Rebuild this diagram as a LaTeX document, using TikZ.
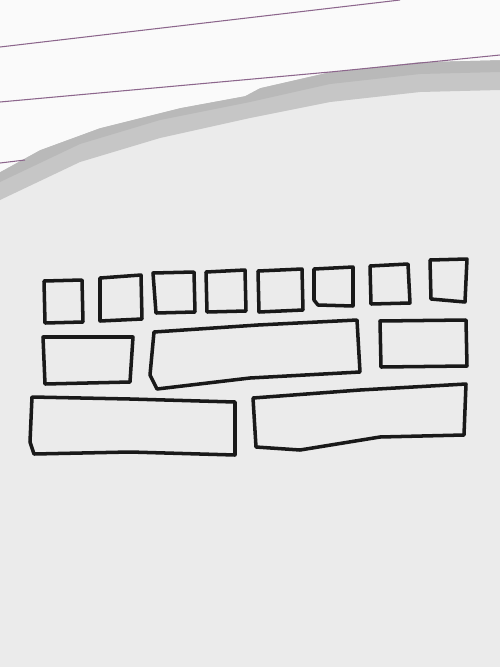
\documentclass[tikz,border=0pt]{standalone}
\usepackage{tikz}

\tikzset{
  pen/.style={black!90, line width=2pt, line join=round, line cap=round},
  rule/.style={violet!50!black!60, line width=0.6pt}
}

\begin{document}
\begin{tikzpicture}[x=0.02cm, y=-0.02cm]

        % paper
        \fill[gray!16] (0,0) rectangle (500,667);
        \useasboundingbox (0,0) rectangle (500,667);

        % torn top sheet
        \fill[gray!45] (0,172) -- (40,150) -- (100,128) -- (180,108) -- (245,96) -- (260,88)
              -- (330,72) -- (420,62) -- (500,60) -- (500,90) -- (420,92) -- (330,102)
              -- (250,118) -- (160,138) -- (80,162) -- (0,200) -- cycle;
        \fill[gray!55] (0,172) -- (40,150) -- (100,128) -- (180,108) -- (245,96) -- (260,88)
              -- (330,72) -- (420,62) -- (500,60) -- (500,72) -- (420,74) -- (330,84)
              -- (250,102) -- (160,120) -- (80,144) -- (0,182) -- cycle;
        \fill[white!96!gray] (0,0) rectangle (500,60) (0,60) -- (500,60) -- (420,62) -- (330,72)
              -- (260,88) -- (245,96) -- (180,108) -- (100,128) -- (40,150) -- (0,172) -- cycle;
        \draw[rule] (0,47) -- (400,0);
        \draw[rule] (0,102) -- (330,72);
        \draw[rule] (330,72) -- (500,55);
        \draw[rule] (0,163) -- (25,160);

        % top row
        \draw[pen] (44,281) -- (82,280) -- (83,322) -- (45,323) -- cycle;
        \draw[pen] (100,278) -- (141,275) -- (142,319) -- (100,321) -- cycle;
        \draw[pen] (153,273) -- (194,272) -- (195,312) -- (156,313) -- cycle;
        \draw[pen] (206,272) -- (245,270) -- (246,311) -- (207,312) -- cycle;
        \draw[pen] (258,271) -- (302,269) -- (303,310) -- (259,312) -- cycle;
        \draw[pen] (314,269) -- (353,267) -- (353,306) -- (318,305) -- (314,300) -- cycle;
        \draw[pen] (370,266) -- (408,264) -- (410,303) -- (371,304) -- cycle;
        \draw[pen] (430,260) -- (467,259) -- (465,302) -- (431,299) -- cycle;

        % middle row
        \draw[pen] (43,337) -- (133,337) -- (130,382) -- (45,384) -- cycle;
        \draw[pen] (154,332) -- (258,325) -- (357,320) -- (360,372) -- (250,378) -- (157,389)
              -- (150,375) -- cycle;
        \draw[pen] (380,321) -- (466,320) -- (467,366) -- (381,367) -- cycle;

        % bottom row
        \draw[pen] (32,397) -- (130,399) -- (235,402) -- (235,455) -- (130,452) -- (34,454)
              -- (30,442) -- cycle;
        \draw[pen] (253,398) -- (360,390) -- (466,384) -- (464,435) -- (380,437) -- (300,450)
              -- (256,447) -- cycle;

\end{tikzpicture}
\end{document}
